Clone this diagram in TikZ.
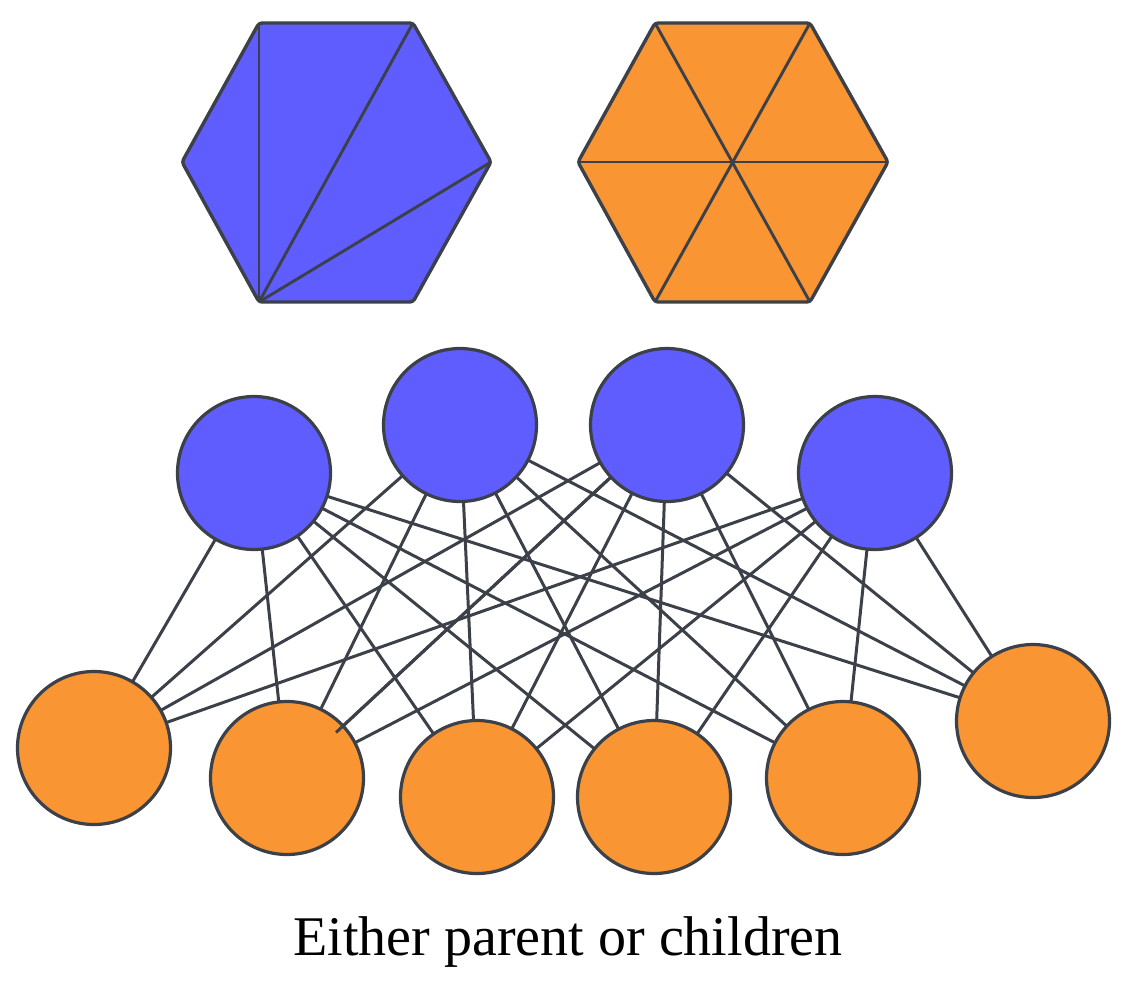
\documentclass[tikz,border=0pt]{standalone}
\usepackage{fontspec}
\setmainfont{Liberation Serif}
\usetikzlibrary{calc}
\definecolor{blueF}{HTML}{605DFF}
\definecolor{orangeF}{HTML}{F99532}
\definecolor{edgeC}{HTML}{3B4049}
\pgfdeclarelayer{bg}
\pgfsetlayers{bg,main}
\begin{document}
\begin{tikzpicture}[x=1pt,y=-1pt,
  topnode/.style={circle,draw=edgeC,line width=3.2pt,fill=blueF,minimum size=153pt,inner sep=0pt},
  botnode/.style={circle,draw=edgeC,line width=3.2pt,fill=orangeF,minimum size=153pt,inner sep=0pt},
  link/.style={draw=edgeC,line width=3pt},
  hexline/.style={draw=edgeC,line width=3.4pt,rounded corners=3pt,line join=round},
  diag/.style={draw=edgeC,line width=2.9pt}]
\useasboundingbox (0,0) rectangle (1135,989);
% hexagon coordinates
\coordinate (a1) at (259,23); \coordinate (a2) at (413,23); \coordinate (a3) at (491,162);
\coordinate (a4) at (413,302); \coordinate (a5) at (259,302); \coordinate (a6) at (182,162);
\coordinate (b1) at (655,23); \coordinate (b2) at (810,23); \coordinate (b3) at (888,162);
\coordinate (b4) at (810,302); \coordinate (b5) at (655,302); \coordinate (b6) at (578,162);
% blue hexagon
\path[hexline,fill=blueF] (a1) -- (a2) -- (a3) -- (a4) -- (a5) -- (a6) -- cycle;
\draw[diag] (a5) -- (a1);
\draw[diag] (a5) -- (a2);
\draw[diag] (a5) -- (a3);
% orange hexagon
\path[hexline,fill=orangeF] (b1) -- (b2) -- (b3) -- (b4) -- (b5) -- (b6) -- cycle;
\draw[diag] (b1) -- (b4);
\draw[diag] (b2) -- (b5);
\draw[diag] (b6) -- (b3);
% nodes
\node[topnode] (T1) at (254,473) {};
\node[topnode] (T2) at (460,425) {};
\node[topnode] (T3) at (667,425) {};
\node[topnode] (T4) at (875,473) {};
\node[botnode] (B1) at (94,748) {};
\node[botnode] (B2) at (287,778) {};
\node[botnode] (B3) at (477,797) {};
\node[botnode] (B4) at (654,797) {};
\node[botnode] (B5) at (843,778) {};
\node[botnode] (B6) at (1033,721) {};
% edges behind the nodes
\begin{pgfonlayer}{bg}
\foreach \t in {T1,T2,T3,T4}{
  \foreach \b in {B1,B2,B3,B4,B5,B6}{
    \draw[link] (\t.center) -- (\b.center);
  }
}
\end{pgfonlayer}
% one edge drawn over its child
\coordinate (g) at ($(T3.center)!0.871!(B2.center)$);
\draw[link] (T3) -- (g);
% caption
\node[anchor=base,inner sep=0pt,font=\fontsize{56}{60}\selectfont] (cap) at (568,955) {Either parent or children};
\end{tikzpicture}
\end{document}
